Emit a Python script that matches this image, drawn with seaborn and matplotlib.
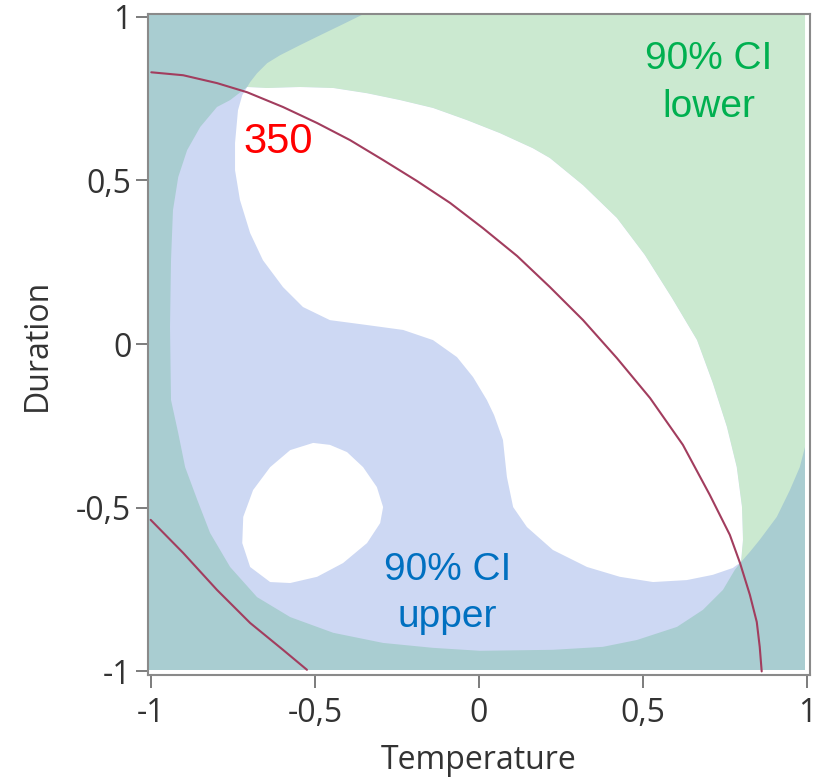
import pandas as pd
import matplotlib
matplotlib.use("Agg")
import matplotlib.pyplot as plt
import seaborn as sns

# -----------------------------
# Region outlines (Temperature, Duration)
# -----------------------------
# white area: upper/right edge, top-left junction -> bottom-right junction
white_upper_x = [-0.706, -0.645, -0.545, -0.444, -0.341, -0.240, -0.140, -0.037, 0.064, 0.164,
                 0.216, 0.317, 0.420, 0.505, 0.588, 0.664, 0.712, 0.755, 0.785, 0.801, 0.804, 0.798]
white_upper_y = [0.785, 0.782, 0.785, 0.782, 0.766, 0.745, 0.721, 0.684, 0.644, 0.598,
                 0.568, 0.485, 0.385, 0.272, 0.140, 0.012, -0.119, -0.253, -0.376, -0.498, -0.598, -0.666]

# white area: lower/left edge, back from bottom-right to top-left
white_lower_x = [0.773, 0.712, 0.633, 0.530, 0.429, 0.329, 0.225, 0.146, 0.104, 0.085, 0.073,
                 0.046, 0.024, -0.018, -0.067, -0.140, -0.231, -0.341, -0.454, -0.536, -0.597,
                 -0.658, -0.697, -0.728, -0.743, -0.743, -0.734, -0.721]
white_lower_y = [-0.684, -0.705, -0.721, -0.727, -0.711, -0.681, -0.629, -0.559, -0.498, -0.406, -0.293,
                 -0.217, -0.171, -0.101, -0.040, 0.012, 0.043, 0.058, 0.073, 0.113, 0.174,
                 0.256, 0.339, 0.440, 0.531, 0.614, 0.714, 0.760]

# blue (upper CI) edge against the teal, from the top-left junction round to the bottom-right one
blue_edge_x = [-0.758, -0.798, -0.849, -0.889, -0.916, -0.932, -0.938, -0.941, -0.938, -0.916,
               -0.895, -0.858, -0.819, -0.758, -0.676, -0.575, -0.444, -0.292, -0.140, 0.003,
               0.225, 0.377, 0.481, 0.603, 0.682, 0.743, 0.779]
blue_edge_y = [0.745, 0.724, 0.663, 0.592, 0.510, 0.409, 0.256, 0.052, -0.171, -0.272,
               -0.376, -0.476, -0.577, -0.681, -0.773, -0.834, -0.882, -0.913, -0.928, -0.937,
               -0.934, -0.925, -0.904, -0.864, -0.812, -0.751, -0.690]

# green (lower CI) edge against the teal, over the top and down the right side
green_edge_x = [-0.697, -0.676, -0.645, -0.606, -0.545, -0.484, -0.414, -0.347, 0.993, 0.993,
                0.977, 0.947, 0.907, 0.855, 0.825]
green_edge_y = [0.800, 0.827, 0.858, 0.882, 0.913, 0.943, 0.977, 1.010, 1.010, -0.314,
                -0.376, -0.446, -0.528, -0.598, -0.635]

# small white island bottom-left
island_x = [-0.505, -0.575, -0.636, -0.688, -0.718, -0.721, -0.697, -0.636, -0.575, -0.493,
            -0.414, -0.341, -0.301, -0.292, -0.311, -0.353, -0.402, -0.454]
island_y = [-0.302, -0.324, -0.376, -0.446, -0.528, -0.608, -0.681, -0.727, -0.730, -0.711,
            -0.669, -0.608, -0.547, -0.498, -0.437, -0.376, -0.330, -0.308]

# 350 contour, two branches
c350_a_x = [-0.998, -0.901, -0.798, -0.706, -0.597, -0.493, -0.393, -0.292, -0.189, -0.088,
            0.012, 0.116, 0.216, 0.317, 0.420, 0.521, 0.621, 0.703, 0.764, 0.795, 0.825,
            0.846, 0.855, 0.861]
c350_a_y = [0.830, 0.821, 0.797, 0.769, 0.724, 0.675, 0.623, 0.562, 0.498, 0.431,
            0.354, 0.269, 0.174, 0.073, -0.043, -0.165, -0.308, -0.461, -0.583, -0.669, -0.766,
            -0.849, -0.925, -1.0]
c350_b_x = [-1.0, -0.901, -0.798, -0.697, -0.597, -0.524]
c350_b_y = [-0.537, -0.638, -0.751, -0.852, -0.934, -0.995]

ticks = [-1, -0.5, 0, 0.5, 1]
tick_labels = ["-1", "-0,5", "0", "0,5", "1"]

TEAL = "#a9cdd1"
BLUE = "#cdd8f3"
GREEN = "#cbe9d0"
LINE = "#a23d5e"

sns.set_theme(style="white")
plt.rcParams["font.family"] = ["Open Sans", "DejaVu Sans"]

fig = plt.figure(figsize=(8.16, 7.83), dpi=100)
ax = fig.add_axes([0.1814, 0.1379, 0.8112, 0.8442])

A = (white_upper_x[0], white_upper_y[0])

# teal where both limits shade
ax.fill([-1.01, 0.993, 0.993, -1.01], [-0.996, -0.996, 1.01, 1.01], color=TEAL, lw=0, zorder=1)

# blue region, closed back along the white's upper edge
bx = [A[0]] + blue_edge_x + white_upper_x[::-1]
by = [A[1]] + blue_edge_y + white_upper_y[::-1]
ax.fill(bx, by, color=BLUE, lw=0, zorder=2)

# green region
gx = [A[0]] + green_edge_x + white_upper_x[::-1]
gy = [A[1]] + green_edge_y + white_upper_y[::-1]
ax.fill(gx, gy, color=GREEN, lw=0, zorder=2)

# white (feasible) areas
ax.fill(white_upper_x + white_lower_x, white_upper_y + white_lower_y, color="white", lw=0, zorder=3)
ax.fill(island_x, island_y, color="white", lw=0, zorder=3)

# contour lines
for cx, cy in [(c350_a_x, c350_a_y), (c350_b_x, c350_b_y)]:
    df = pd.DataFrame({"Temperature": cx, "Duration": cy})
    sns.lineplot(data=df, x="Temperature", y="Duration", sort=False, estimator=None,
                 color=LINE, lw=1.5, ax=ax, zorder=4)

ax.text(-0.613, 0.617, "350", color="#ff0000", fontsize=30, family="Liberation Sans",
        ha="center", va="center", zorder=5)
ax.text(0.70, 0.797, "90% CI\nlower", color="#00b050", fontsize=28, family="Liberation Sans",
        ha="center", va="center", linespacing=1.4, zorder=5)
ax.text(-0.097, -0.763, "90% CI\nupper", color="#0070c0", fontsize=28, family="Liberation Sans",
        ha="center", va="center", linespacing=1.4, zorder=5)

ax.set_xlim(-1.008, 1.008)
ax.set_ylim(-1.011, 1.008)
ax.set_xticks(ticks)
ax.set_xticklabels(tick_labels)
ax.set_yticks(ticks)
ax.set_yticklabels(tick_labels)
ax.tick_params(axis="both", direction="out", length=9, width=1.2, color="#666666",
               labelsize=23, labelcolor="#333333", bottom=True, left=True)
ax.tick_params(axis="x", pad=7)
ax.tick_params(axis="y", pad=3)

ax.set_xlabel("Temperature", fontsize=23, color="#333333", labelpad=10)
ax.set_ylabel("Duration", fontsize=23, color="#333333", labelpad=16)

for s in ax.spines.values():
    s.set_color("#8a8a8a")
    s.set_linewidth(1.5)

fig.savefig("out.png", dpi=100)
